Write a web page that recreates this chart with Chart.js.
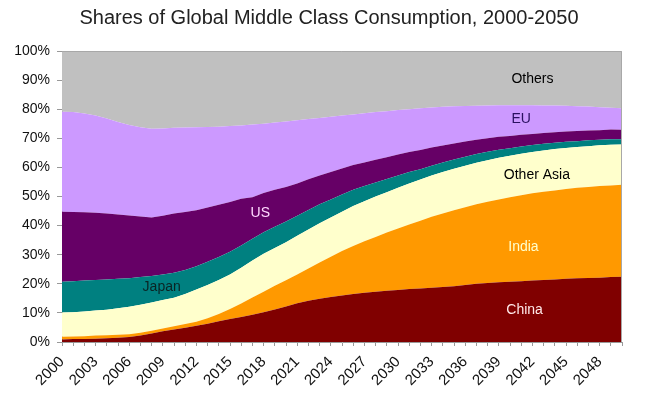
<!DOCTYPE html>
<html>
<head>
<meta charset="utf-8">
<script src="https://cdn.jsdelivr.net/npm/chart.js@4/dist/chart.umd.min.js"></script>
<style>
html,body{margin:0;padding:0;background:#fff;}
#wrap{width:658px;height:400px;}
</style>
</head>
<body>
<div id="wrap"><canvas id="c" width="658" height="400"></canvas></div>
<script>
const years = [2000,2001,2002,2003,2004,2005,2006,2007,2008,2009,2010,2011,2012,2013,2014,2015,2016,2017,2018,2019,2020,2021,2022,2023,2024,2025,2026,2027,2028,2029,2030,2031,2032,2033,2034,2035,2036,2037,2038,2039,2040,2041,2042,2043,2044,2045,2046,2047,2048,2049,2050];

const china = [0.9,1.0,1.0,1.1,1.3,1.5,1.7,2.2,2.9,3.7,4.3,4.9,5.6,6.3,7.1,7.9,8.6,9.4,10.2,11.2,12.2,13.3,14.2,14.9,15.5,16.0,16.5,16.9,17.3,17.6,17.9,18.2,18.4,18.6,18.9,19.2,19.6,20.0,20.3,20.5,20.7,20.9,21.1,21.3,21.5,21.7,21.9,22.0,22.1,22.3,22.4];
const india = [0.9,0.9,1.0,1.1,1.0,1.0,1.0,1.0,1.0,0.9,1.1,1.3,1.4,1.9,2.5,3.4,4.6,5.9,7.1,8.1,9.0,9.9,11.1,12.4,13.8,15.3,16.5,17.7,18.8,20.0,21.1,22.2,23.3,24.4,25.3,26.1,26.7,27.3,27.9,28.5,29.0,29.5,30.0,30.3,30.6,30.9,31.1,31.3,31.5,31.5,31.6];
const otherAsia = [8.3,8.3,8.5,8.6,8.8,9.1,9.4,9.6,9.7,9.8,9.8,10.3,11.0,11.4,11.7,11.9,12.3,12.7,13.0,13.0,13.1,13.3,13.4,13.5,13.5,13.5,13.7,13.8,13.9,13.9,14.0,14.1,14.1,14.2,14.2,14.2,14.3,14.3,14.3,14.3,14.3,14.3,14.2,14.2,14.2,14.1,14.0,14.0,14.0,14.0,13.9];
const japan = [10.6,10.7,10.6,10.5,10.4,10.1,9.8,9.5,9.1,8.8,8.6,8.2,8.0,8.0,7.9,7.8,7.7,7.5,7.4,7.3,7.1,6.9,6.7,6.5,6.2,5.9,5.6,5.2,4.8,4.5,4.2,3.9,3.6,3.4,3.3,3.2,3.1,3.0,2.9,2.8,2.6,2.5,2.4,2.3,2.2,2.1,2.0,2.0,1.9,1.9,1.8];
const us = [24.1,23.8,23.5,23.1,22.7,22.1,21.6,20.8,20.1,20.2,20.4,20.0,19.3,18.6,18.0,17.1,16.0,14.2,13.5,12.7,11.9,11.1,10.5,9.9,9.4,8.9,8.5,8.1,7.8,7.5,7.2,6.9,6.6,6.2,5.8,5.5,5.2,4.9,4.6,4.4,4.2,4.0,3.8,3.7,3.6,3.5,3.5,3.4,3.3,3.3,3.2];
const eu = [34.3,34.3,33.9,33.4,32.6,31.8,31.1,30.7,30.5,30.0,29.4,29.0,28.5,27.7,26.8,26.1,25.2,25.0,23.8,23.1,22.5,21.7,20.7,19.8,19.0,18.2,17.4,16.9,16.4,15.8,15.3,14.7,14.3,13.8,13.3,12.8,12.2,11.7,11.3,10.9,10.6,10.2,9.9,9.5,9.2,8.9,8.5,8.2,7.9,7.5,7.4];
const others = [20.9,21.0,21.5,22.2,23.2,24.4,25.4,26.2,26.7,26.6,26.4,26.3,26.2,26.1,26.0,25.8,25.6,25.3,25.0,24.6,24.2,23.8,23.4,23.0,22.6,22.2,21.8,21.4,21.0,20.7,20.3,20.0,19.7,19.4,19.2,19.0,18.9,18.8,18.7,18.6,18.6,18.6,18.6,18.7,18.7,18.8,19.0,19.1,19.3,19.5,19.7];

const seriesNames = ['China','India','Other Asia','Japan','US','EU','Others'];
const seriesColors = ['#800000','#ff9900','#ffffcc','#008080','#660066','#cc99ff','#c0c0c0'];
const seriesValues = [china, india, otherAsia, japan, us, eu, others];

const yTicks = [0,10,20,30,40,50,60,70,80,90,100];

// in-chart band labels: text, year, share %, colour
const labelText  = ['Others','EU','Other Asia','India','China','US','Japan'];
const labelYear  = [2042, 2041, 2042.4, 2041.2, 2041.3, 2017.7, 2008.9];
const labelPct   = [90.5, 76.5, 57.5, 32.6, 11, 44.3, 18.9];
const labelColor = ['#000000','#2a1060','#000000','#ffffcc','#ffe8e8','#ffd8ff','#0a2424'];

// normalise each year to 100 %
const totals = years.map((_, i) => seriesValues.reduce((s, a) => s + a[i], 0));
const datasets = seriesValues.map((arr, k) => ({
  label: seriesNames[k],
  data: arr.map((v, i) => v / totals[i] * 100),
  backgroundColor: seriesColors[k],
  borderColor: seriesColors[k],
  borderWidth: 0,
  pointRadius: 0,
  fill: k === 0 ? 'origin' : '-1',
  tension: 0
}));

const FONT = '"Liberation Sans", Arial, sans-serif';

const decor = {
  id: 'decor',
  afterDatasetsDraw(chart) {
    const ctx = chart.ctx, a = chart.chartArea;
    const xs = chart.scales.x, ys = chart.scales.y;
    ctx.save();
    ctx.strokeStyle = '#a8a8a8';
    ctx.lineWidth = 1;
    ctx.beginPath();
    ctx.moveTo(a.left, a.top + 0.5);
    ctx.lineTo(a.right - 0.5, a.top + 0.5);
    ctx.lineTo(a.right - 0.5, a.bottom);
    ctx.stroke();
    ctx.font = '14px ' + FONT;
    ctx.textAlign = 'center';
    ctx.textBaseline = 'middle';
    labelText.forEach((t, i) => {
      ctx.fillStyle = labelColor[i];
      ctx.fillText(t, xs.getPixelForValue(labelYear[i] - years[0]), ys.getPixelForValue(labelPct[i]));
    });
    ctx.restore();
  },
  afterDraw(chart) {
    const ctx = chart.ctx;
    ctx.save();
    ctx.font = '20px ' + FONT;
    ctx.fillStyle = '#222';
    ctx.textAlign = 'center';
    ctx.textBaseline = 'middle';
    ctx.fillText('Shares of Global Middle Class Consumption, 2000-2050', 329, 18);
    ctx.restore();
  }
};

new Chart(document.getElementById('c'), {
  type: 'line',
  data: { labels: years.map(String), datasets },
  options: {
    responsive: false,
    animation: false,
    devicePixelRatio: 1,
    layout: { padding: { top: 51, right: 36, left: 0, bottom: 0 } },
    plugins: { legend: { display: false }, title: { display: false }, tooltip: { enabled: false } },
    scales: {
      x: {
        offset: false,
        grid: { drawOnChartArea: false, drawTicks: true, tickLength: 4, color: '#999' },
        border: { display: true, color: '#999' },
        ticks: {
          autoSkip: false, minRotation: 45, maxRotation: 45, padding: 7,
          color: '#111', font: { family: FONT, size: 15 },
          callback: (v, i) => (i % 3 === 0 ? String(years[i]) : '')
        },
        afterFit: s => { s.height = 58; }
      },
      y: {
        stacked: true, min: 0, max: 100,
        afterBuildTicks: s => { s.ticks = yTicks.map(v => ({ value: v })); },
        grid: { drawOnChartArea: false, drawTicks: true, tickLength: 5, color: '#999' },
        border: { display: true, color: '#999' },
        ticks: { padding: 7, color: '#111', font: { family: FONT, size: 14 }, callback: v => v + '%' },
        afterFit: s => { s.width = 62; }
      }
    }
  },
  plugins: [decor]
});
</script>
</body>
</html>
